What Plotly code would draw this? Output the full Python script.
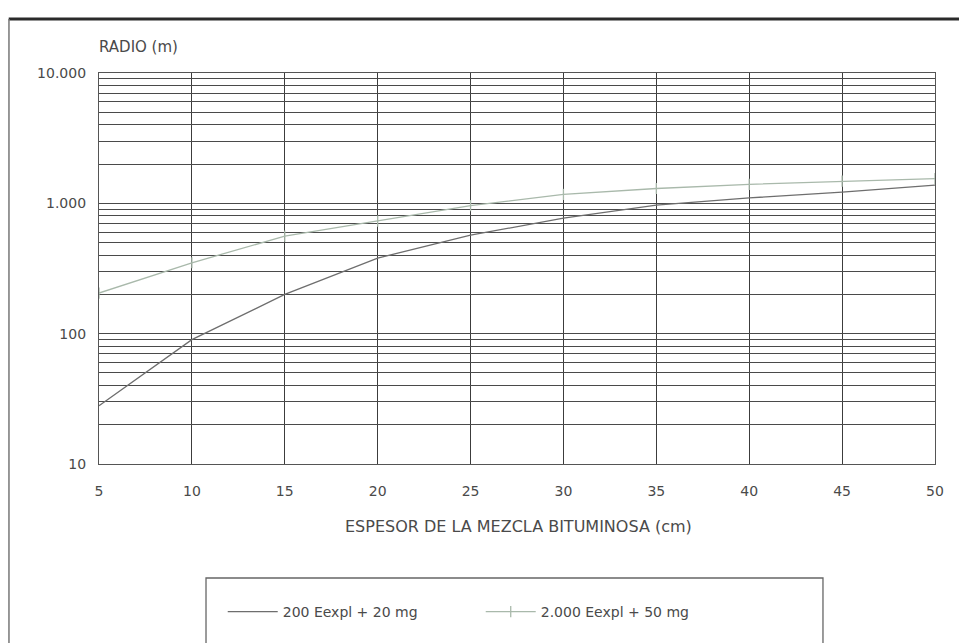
import plotly.graph_objects as go

# ---- data ----
espesor = [5, 10, 15, 20, 25, 30, 35, 40, 45, 50]
radio_200 = [28, 90, 200, 380, 570, 770, 970, 1100, 1220, 1380]
radio_2000 = [205, 350, 560, 730, 960, 1170, 1300, 1400, 1480, 1550]
series_names = ["200 Eexpl + 20 mg", "2.000 Eexpl + 50 mg"]

y_grid_vals = [m * 10 ** e for e in (1, 2, 3) for m in range(1, 10)] + [10000]
y_tick_text = {10: "10", 100: "100", 1000: "1.000", 10000: "10.000"}
x_tick_vals = list(range(5, 51, 5))

FONT = "DejaVu Sans"
TXT = "#4a4a4a"

fig = go.Figure()
fig.add_trace(go.Scatter(
    x=espesor, y=radio_200, name=series_names[0], mode="lines",
    line=dict(color="#6e6e6e", width=1.3),
))
fig.add_trace(go.Scatter(
    x=espesor, y=radio_2000, name=series_names[1], mode="lines+markers",
    line=dict(color="#a9b9ab", width=1.3),
    marker=dict(symbol="line-ns", size=8, line=dict(color="#a9b9ab", width=1.3)),
))

fig.update_xaxes(
    range=[5, 50], tickvals=x_tick_vals,
    ticks="outside", ticklen=14, tickcolor="rgba(0,0,0,0)",
    showgrid=True, gridcolor="#3c3c3c", gridwidth=1.3,
    showline=True, linecolor="#555", linewidth=1.2, mirror=True,
    zeroline=False,
    tickfont=dict(family=FONT, size=14, color=TXT),
)
fig.update_yaxes(
    type="log", range=[1, 4],
    tickvals=y_grid_vals,
    ticktext=[y_tick_text.get(v, "") for v in y_grid_vals],
    ticks="outside", ticklen=9, tickcolor="rgba(0,0,0,0)",
    showgrid=True, gridcolor="#4a4a4a", gridwidth=1.3,
    showline=True, linecolor="#555", linewidth=1.2, mirror=True,
    zeroline=False,
    tickfont=dict(family=FONT, size=14, color=TXT),
)

# outer frame lines and legend box
fig.add_shape(type="line", xref="paper", yref="paper",
              x0=-0.108, x1=1.06, y0=1.138, y1=1.138,
              line=dict(color="#2a2a2a", width=3))
fig.add_shape(type="line", xref="paper", yref="paper",
              x0=-0.1077, x1=-0.1077, y0=1.138, y1=-0.5,
              line=dict(color="#777", width=1.5))
fig.add_shape(type="rect", xref="paper", yref="paper",
              x0=0.128, x1=0.866, y0=-0.5, y1=-0.2916,
              line=dict(color="#666", width=1.3), fillcolor="rgba(0,0,0,0)")

fig.add_annotation(text="RADIO (m)", xref="paper", yref="paper",
                   x=-0.002, y=1.066, xanchor="left", yanchor="middle",
                   showarrow=False, font=dict(family=FONT, size=15, color=TXT))
fig.add_annotation(text="ESPESOR DE LA MEZCLA BITUMINOSA (cm)", xref="paper", yref="paper",
                   x=0.502, y=-0.161, xanchor="center", yanchor="middle",
                   showarrow=False, font=dict(family=FONT, size=16, color=TXT))

fig.update_layout(
    width=967, height=643,
    margin=dict(l=91, r=40, t=65, b=187),
    paper_bgcolor="white", plot_bgcolor="white",
    showlegend=True,
    legend=dict(orientation="h", x=0.148, y=-0.3785, xanchor="left", yanchor="middle",
                font=dict(family=FONT, size=14, color=TXT),
                itemwidth=50, entrywidth=193, entrywidthmode="pixels",
                bgcolor="rgba(0,0,0,0)", borderwidth=0),
)

fig.write_html("out.html")
